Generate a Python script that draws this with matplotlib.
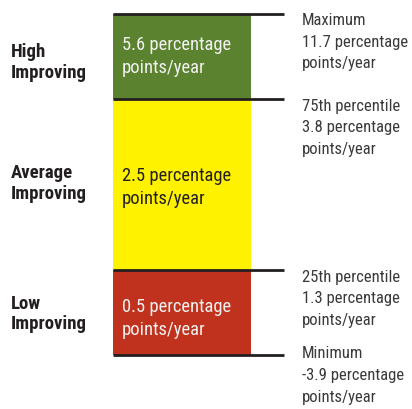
import matplotlib
matplotlib.use('Agg')
import matplotlib.pyplot as plt

# Groups, top to bottom share of the distribution (percentile bands)
groups = ['High\nImproving', 'Average\nImproving', 'Low\nImproving']
band_low = [75, 25, 0]
band_size = [25, 50, 25]
medians = ['5.6 percentage\npoints/year', '2.5 percentage\npoints/year', '0.5 percentage\npoints/year']
colors = ['#5b822f', '#fff200', '#c0321e']
text_colors = ['#f2f2f2', '#231f20', '#f2f2f2']

# Boundary markers
bounds = [100, 75, 25, 0]
bound_labels = ['Maximum\n11.7 percentage\npoints/year',
                '75th percentile\n3.8 percentage\npoints/year',
                '25th percentile\n1.3 percentage\npoints/year',
                'Minimum\n-3.9 percentage\npoints/year']

# small nudges for the text blocks (layout only)
group_nudge = [-1.7, 0.3, -0.5]
median_nudge = [0.0, -0.9, -1.8]
bound_nudge = [0.2, 0.2, 0.0, 2.5]

plt.rcParams['font.family'] = ['Roboto Condensed', 'DejaVu Sans']

fig = plt.figure(figsize=(4.12, 4.09), dpi=100)
ax = fig.add_axes([0, 0, 1, 1])
ax.set_xlim(0, 412)
ax.set_ylim(-15.84, 104.1)
ax.axis('off')

# Stacked bands
ax.bar([182] * 3, band_size, bottom=band_low, width=138, color=colors, linewidth=0)

# Horizontal boundary lines
ax.hlines(bounds, 113, 284, color='#231f20', linewidth=2)

for i in range(3):
    yc = band_low[i] + band_size[i] / 2
    ax.text(122, yc + median_nudge[i], medians[i], color=text_colors[i], fontsize=13.3,
            ha='left', va='center', linespacing=1.4)
    ax.text(11, yc + group_nudge[i], groups[i], color='#231f20', fontsize=13.5,
            fontweight='bold', ha='left', va='center', linespacing=1.2)

for b, lab, nd in zip(bounds, bound_labels, bound_nudge):
    ax.text(302, b + nd, lab, color='#3a3a3a', fontsize=12,
            ha='left', va='top', linespacing=1.55)

plt.savefig('out.png', dpi=100)
